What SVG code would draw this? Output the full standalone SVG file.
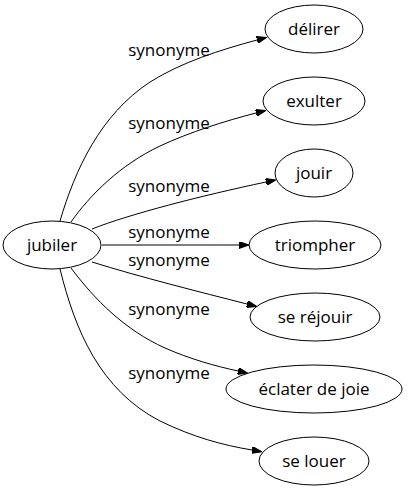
<svg xmlns="http://www.w3.org/2000/svg" width="408" height="491" viewBox="0 0 408 491">
<style>
.node ellipse{fill:none;stroke:#000;stroke-width:1}
text{font-family:"Open Sans","DejaVu Sans",sans-serif;font-size:17px;fill:#000;text-anchor:middle}
.edges path{fill:none;stroke:#000;stroke-width:1}
</style>
<defs>
<marker id="arr" viewBox="0 0 10 7" refX="0" refY="3.5" markerWidth="10" markerHeight="7" markerUnits="userSpaceOnUse" orient="auto">
<path d="M0,0 L10,3.5 L0,7 z" fill="#000" stroke="#000"/>
</marker>
</defs>
<rect width="408" height="491" fill="#fff"/>
<g class="edges" id="edges">
<path marker-end="url(#arr)" d="M60,221 C75,170 100,115 150,82 C182,62 220,50 257,40"/>
<path marker-end="url(#arr)" d="M71,222 C90,195 120,165 160,146 C190,132 225,121 256,113"/>
<path marker-end="url(#arr)" d="M92,229 C130,214 200,196 266,182"/>
<path marker-end="url(#arr)" d="M102,245 L239,245"/>
<path marker-end="url(#arr)" d="M92,262 C140,277 200,292 247,304"/>
<path marker-end="url(#arr)" d="M71,268 C95,300 125,330 165,348 C190,359 215,366 238,371"/>
<path marker-end="url(#arr)" d="M60,269 C75,330 100,390 160,421 C193,437 222,445 252,450"/>
<text x="169" y="56">synonyme</text>
<text x="169" y="129">synonyme</text>
<text x="169" y="192">synonyme</text>
<text x="169" y="238">synonyme</text>
<text x="169" y="266">synonyme</text>
<text x="169" y="315">synonyme</text>
<text x="169" y="379">synonyme</text>
</g>
<g class="node" id="n-jubiler"><ellipse cx="52" cy="245" rx="49" ry="24"/><text x="52" y="251">jubiler</text></g>
<g class="node" id="n-delirer"><ellipse cx="314" cy="29" rx="49" ry="24"/><text x="314" y="35">délirer</text></g>
<g class="node" id="n-exulter"><ellipse cx="314" cy="101" rx="51" ry="24"/><text x="314" y="107">exulter</text></g>
<g class="node" id="n-jouir"><ellipse cx="314" cy="173" rx="39" ry="24"/><text x="314" y="179">jouir</text></g>
<g class="node" id="n-triompher"><ellipse cx="315" cy="245" rx="66" ry="24"/><text x="315" y="251">triompher</text></g>
<g class="node" id="n-serejouir"><ellipse cx="315" cy="317" rx="65" ry="24"/><text x="315" y="323">se réjouir</text></g>
<g class="node" id="n-eclater"><ellipse cx="314" cy="389" rx="88" ry="24"/><text x="314" y="395">éclater de joie</text></g>
<g class="node" id="n-selouer"><ellipse cx="314" cy="461" rx="55" ry="24"/><text x="314" y="467">se louer</text></g>
</svg>
